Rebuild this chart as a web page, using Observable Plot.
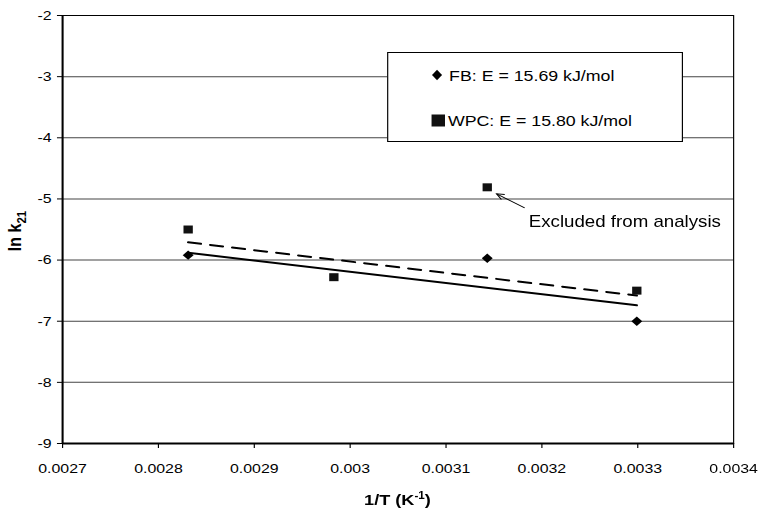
<!DOCTYPE html>
<html>
<head>
<meta charset="utf-8">
<script src="https://cdn.jsdelivr.net/npm/d3@7"></script>
<script src="https://cdn.jsdelivr.net/npm/@observablehq/plot@0.6"></script>
<style>
  html, body { margin: 0; padding: 0; background: #fff; overflow: hidden; }
  #wrap { position: relative; width: 649px; height: 513px; transform: scaleX(1.1695); transform-origin: 0 0;
          font-family: "Liberation Sans", Arial, sans-serif; color: #000; }
  #legend { position: absolute; left: 331px; top: 52px; width: 253px; height: 90px; box-sizing: border-box;
            border: 1px solid #000; background: #fff; }
  #legend svg { position: absolute; left: 0; top: 0; overflow: visible; }
</style>
</head>
<body>
<div id="wrap"><div id="chart"></div><div id="legend"></div></div>
<script>
// ---- data ----
const fbX = [0.002831, 0.003143, 0.003299];
const fbY = [-5.92, -5.97, -7.00];
const wpcX = [0.002831, 0.002983, 0.003143, 0.003299];
const wpcY = [-5.50, -6.28, -4.81, -6.50];
const fbFitX = [0.002831, 0.003299];
const fbFitY = [-5.88, -6.74];
const wpcFitX = [0.002831, 0.003299];
const wpcFitY = [-5.71, -6.58];
const xTicks = [0.0027, 0.0028, 0.0029, 0.003, 0.0031, 0.0032, 0.0033, 0.0034];
const yTicks = [-2, -3, -4, -5, -6, -7, -8, -9];
const legendLabels = ["FB: E = 15.69 kJ/mol", "WPC: E = 15.80 kJ/mol"];
const excludedIndex = 2;
const excludedLabel = "Excluded from analysis";
const xLabelMain = "1/T (K", xLabelSup = "-1", xLabelEnd = ")";
const yLabelMain = "ln k", yLabelSub = "21";

const fb = fbX.map((x, i) => ({x, y: fbY[i]}));
const wpc = wpcX.map((x, i) => ({x, y: wpcY[i]}));
const fbFit = fbFitX.map((x, i) => ({x, y: fbFitY[i]}));
const wpcFit = wpcFitX.map((x, i) => ({x, y: wpcFitY[i]}));

const W = 649, H = 513, ML = 53, MR = 22.2, MT = 15, MB = 70;

const plot = Plot.plot({
  width: W, height: H,
  marginLeft: ML, marginRight: MR, marginTop: MT, marginBottom: MB,
  style: {fontFamily: '"Liberation Sans", Arial, sans-serif', fontSize: "13.6px", color: "#000", background: "#fff", overflow: "visible"},
  x: {domain: [0.0027, 0.0034]},
  y: {domain: [-9, -2]},
  marks: [
    Plot.ruleY(yTicks, {stroke: "#444", strokeWidth: 1}),
    Plot.frame({stroke: "#000", strokeWidth: 1}),
    Plot.ruleX([xTicks[0]], {stroke: "#000", strokeWidth: 1.7}),
    Plot.ruleY([yTicks[yTicks.length - 1]], {stroke: "#000", strokeWidth: 2}),
    Plot.axisX({ticks: xTicks, tickFormat: d => String(d), tickSize: 5, tickPadding: 15, label: null, stroke: "#000"}),
    Plot.axisY({ticks: yTicks, tickFormat: d => String(d), tickSize: 4.3, tickPadding: 5, label: null, stroke: "#000"}),
    Plot.line(wpcFit, {x: "x", y: "y", stroke: "#000", strokeWidth: 2, strokeDasharray: "11,8"}),
    Plot.line(fbFit, {x: "x", y: "y", stroke: "#000", strokeWidth: 2}),
    Plot.dot(fb, {x: "x", y: "y", symbol: "diamond2", r: 4.2, fill: "#000", stroke: "none"}),
    Plot.dot(wpc, {x: "x", y: "y", symbol: "square", r: 4.5, fill: "#111", stroke: "none"})
  ]
});
document.getElementById("chart").appendChild(plot);

// ---- annotation, anchored on the excluded point via the scales ----
const sx = plot.scale("x"), sy = plot.scale("y");
const px = sx.apply(wpcX[excludedIndex]), py = sy.apply(wpcY[excludedIndex]);
const svg = d3.select(plot);
const ann = svg.append("g").attr("stroke", "#000").attr("fill", "none").attr("stroke-width", 1);
const tx = px + 32.5, ty = py + 21, hx = px + 8.5, hy = py + 7;
ann.append("line").attr("x1", tx).attr("y1", ty).attr("x2", hx).attr("y2", hy);
const ang = Math.atan2(ty - hy, tx - hx), hl = 7, ha = 0.42;
ann.append("path").attr("d",
  `M${hx + hl * Math.cos(ang - ha)},${hy + hl * Math.sin(ang - ha)}L${hx},${hy}L${hx + hl * Math.cos(ang + ha)},${hy + hl * Math.sin(ang + ha)}`);
svg.append("text").attr("x", px + 36).attr("y", py + 40).attr("text-anchor", "start")
  .attr("font-size", 16).attr("fill", "#000").text(excludedLabel);

// ---- axis titles ----
const cx = ML + (W - ML - MR) / 2;
const xl = svg.append("text").attr("x", cx).attr("y", 505).attr("text-anchor", "middle")
  .attr("font-size", 15.5).attr("font-weight", "bold").attr("fill", "#000");
xl.append("tspan").text(xLabelMain);
xl.append("tspan").attr("font-size", 10).attr("dy", -6).text(xLabelSup);
xl.append("tspan").attr("dy", 6).text(xLabelEnd);

const yl = svg.append("text").attr("transform", `translate(18,231) rotate(-90)`).attr("text-anchor", "middle")
  .attr("font-size", 16).attr("font-weight", "bold").attr("fill", "#000");
yl.append("tspan").text(yLabelMain);
yl.append("tspan").attr("font-size", 11.5).attr("dy", 4).text(yLabelSub);

// ---- legend ----
const lg = d3.select("#legend").append("svg").attr("width", 251).attr("height", 88)
  .style("font-family", '"Liberation Sans", Arial, sans-serif');
lg.append("path").attr("d", "M41.7,16.7L46,22L41.7,27.3L37.4,22Z").attr("fill", "#000");
lg.append("text").attr("x", 52).attr("y", 27.7).attr("font-size", 15.2).attr("fill", "#000").text(legendLabels[0]);
lg.append("rect").attr("x", 37).attr("y", 61.5).attr("width", 11.5).attr("height", 12).attr("fill", "#111");
lg.append("text").attr("x", 51).attr("y", 73).attr("font-size", 15.2).attr("fill", "#000").text(legendLabels[1]);
</script>
</body>
</html>
